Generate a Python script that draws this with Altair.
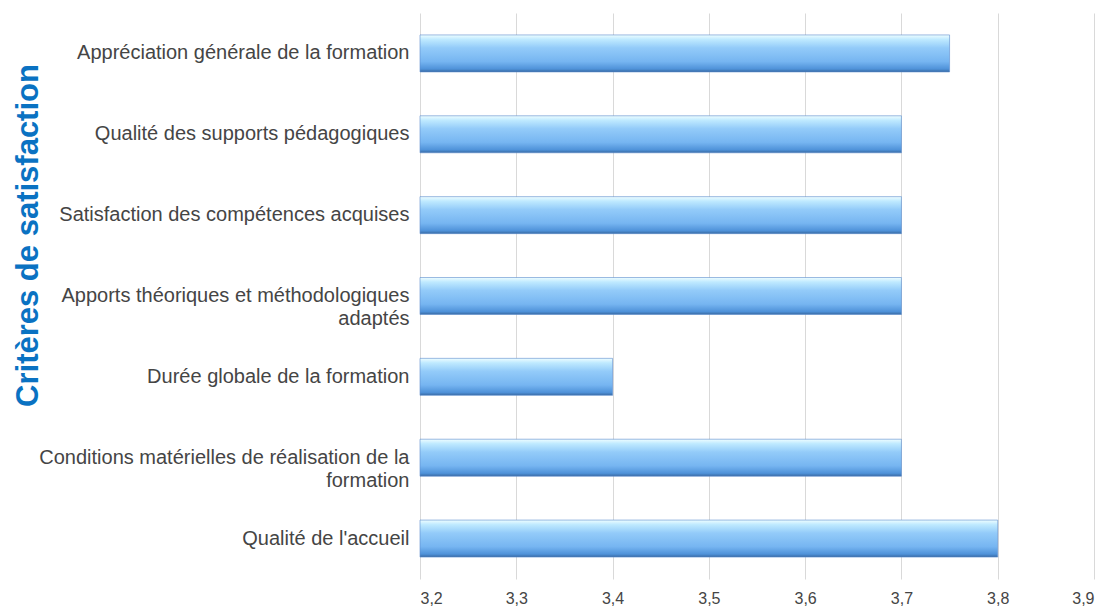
import altair as alt
import pandas as pd

criteria = [
    "Appréciation générale de la formation",
    "Qualité des supports pédagogiques",
    "Satisfaction des compétences acquises",
    "Apports théoriques et méthodologiques|adaptés",
    "Durée globale de la formation",
    "Conditions matérielles de réalisation de la|formation",
    "Qualité de l'accueil",
]
scores = [3.75, 3.7, 3.7, 3.7, 3.4, 3.7, 3.8]
x_ticks = [3.2, 3.3, 3.4, 3.5, 3.6, 3.7, 3.8, 3.9]
axis_title = "Critères de satisfaction"

df = pd.DataFrame({"critere": criteria, "score": scores})

grad = alt.Gradient(
    gradient="linear",
    x1=0, x2=0, y1=0, y2=1,
    stops=[
        alt.GradientStop(color="#eefdff", offset=0),
        alt.GradientStop(color="#bfeaff", offset=0.12),
        alt.GradientStop(color="#93cbf9", offset=0.35),
        alt.GradientStop(color="#76b5f1", offset=0.72),
        alt.GradientStop(color="#4f92d9", offset=0.92),
        alt.GradientStop(color="#386aa3", offset=1),
    ],
)

base = alt.Chart(df)

bars = base.mark_bar(color=grad, size=37, stroke="#5a8ccc", strokeWidth=0.6).encode(
    y=alt.Y(
        "critere:N",
        sort=criteria,
        scale=alt.Scale(paddingInner=0.5, paddingOuter=0.25),
        axis=alt.Axis(
            title=axis_title,
            titleFont="Liberation Sans",
            titleFontSize=31,
            titleFontWeight="bold",
            titleColor="#0a72c2",
            titleAngle=-90,
            titleX=-392,
            titleY=222,
            titleAlign="center",
            titleBaseline="middle",
            labelExpr="split(datum.label, '|')",
            labelFont="Liberation Sans",
            labelFontSize=20,
            labelColor="#454545",
            labelLineHeight=23,
            labelPadding=11,
            labelLimit=420,
            ticks=False,
            domain=False,
            grid=False,
        ),
    ),
    x=alt.X(
        "score:Q",
        scale=alt.Scale(domain=[3.2, 3.9], zero=False, nice=False),
        axis=alt.Axis(
            title=None,
            values=x_ticks,
            labelExpr="replace(format(datum.value, '.1f'), '.', ',')",
            labelFont="Liberation Sans Narrow, Liberation Sans",
            labelFontSize=16,
            labelColor="#454545",
            labelPadding=11,
            ticks=False,
            domain=False,
            grid=True,
            gridColor="#d9d9d9",
            gridWidth=1,
        ),
    ),
    x2=alt.datum(3.2),
)

chart = bars.properties(
    width=674,
    height=566,
    padding={"left": 4, "top": 5, "right": 5, "bottom": 0},
).configure_view(stroke=None)

chart.save("out.html", embed_options={"renderer": "svg", "actions": False})
